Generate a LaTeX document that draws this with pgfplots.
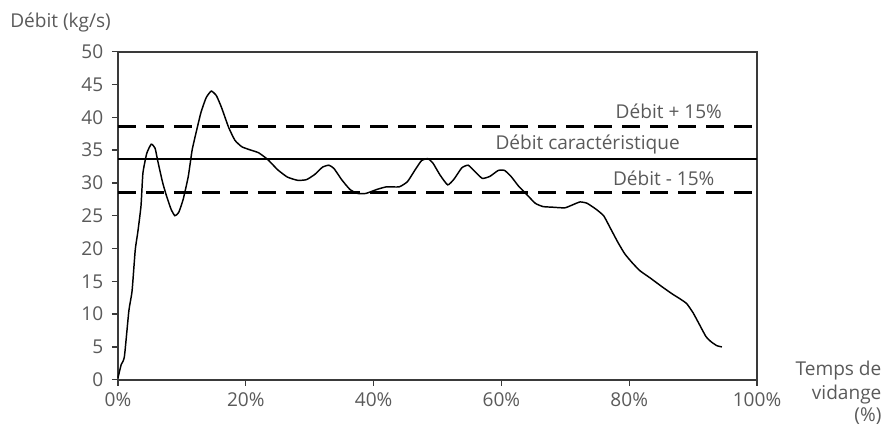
\documentclass[border=0pt]{standalone}
\usepackage{pgfplots}
\pgfplotsset{compat=1.18}
\usepackage{fontspec}
\setmainfont{Open Sans}
\definecolor{txt}{HTML}{5A5A5A}
\definecolor{frame}{HTML}{3A3A3A}
\newcommand\lbl{\fontsize{14.3}{16}\selectfont}

% debit en fonction du temps de vidange (%)
\pgfplotstableread{
x y
0 0.3
0.5 2.3
1.0 3.5
1.7 10.5
2.2 13.5
2.7 19.8
3.1 22.5
3.6 26.5
3.9 31.5
4.5 34.5
5.2 35.9
5.8 35.3
6.3 33.0
7.0 30.0
7.6 28.0
8.3 26.0
8.9 25.0
9.5 25.5
10.2 27.5
11.0 31.0
11.6 35.0
12.3 38.0
13.0 40.8
13.8 43.0
14.6 44.0
15.4 43.3
16.2 41.5
17.3 38.5
18.3 36.5
19.4 35.5
20.8 35.0
22.0 34.6
23.4 33.6
25.0 32.0
26.5 30.9
28.1 30.4
29.5 30.5
30.8 31.3
32.0 32.4
33.0 32.7
33.8 32.2
35.0 30.5
36.3 29.0
37.5 28.4
38.8 28.4
40.5 29.0
42.0 29.4
44.0 29.4
45.3 30.2
46.5 32.0
47.5 33.4
48.5 33.7
49.3 33.0
50.4 31.2
51.6 29.7
52.6 30.6
53.8 32.3
54.8 32.7
55.8 31.8
57.0 30.7
58.2 31.0
59.5 31.9
60.5 31.9
61.5 31.0
62.7 29.5
64.0 28.2
65.3 26.9
66.5 26.4
68.0 26.3
69.9 26.2
71.0 26.6
72.3 27.1
73.4 26.9
74.8 26.0
76.0 25.0
77.0 23.2
78.2 21.0
79.3 19.2
80.5 17.8
81.7 16.6
83.3 15.5
85.1 14.2
86.7 13.1
88.0 12.3
89.0 11.6
90.0 10.2
91.0 8.4
92.0 6.6
92.8 5.8
93.7 5.2
94.5 5.0
}\debit

\begin{document}
\begin{tikzpicture}
\begin{axis}[
    scale only axis,
    width=479.25pt, height=246pt,
    xmin=0, xmax=100, ymin=0, ymax=50,
    xtick={0,20,...,100}, ytick={0,5,...,50},
    xticklabel={\pgfmathprintnumber{\tick}\%},
    xtick pos=bottom, ytick pos=left,
    tick align=outside, major tick length=4.5pt,
    axis line style={frame, line width=1.3pt},
    every tick/.style={frame, line width=1pt},
    tick label style={font=\lbl, text=txt},
    /pgf/number format/assume math mode=true,
    yticklabel style={xshift=-3pt},
    xticklabel style={yshift=-2pt},
    clip=false,
]
\addplot[black, line width=1.1pt, smooth, tension=0.3] table {\debit};
\addplot[black, line width=2.2pt, dash pattern=on 13.5pt off 7.5pt] coordinates {(0,38.6) (100,38.6)};
\addplot[black, line width=1.5pt] coordinates {(0,33.6) (100,33.6)};
\addplot[black, line width=2.2pt, dash pattern=on 13.5pt off 7.5pt] coordinates {(0,28.6) (100,28.6)};
\node[anchor=base, font=\lbl, text=txt, inner sep=0pt] at (axis cs:86.2,39.8) {Débit + 15\%};
\node[anchor=base, font=\lbl, text=txt, inner sep=0pt] at (axis cs:73.5,35.1) {Débit caractéristique};
\node[anchor=base, font=\lbl, text=txt, inner sep=0pt] at (axis cs:85.4,29.6) {Débit - 15\%};
\coordinate (bl) at (rel axis cs:0,0);
\coordinate (tr) at (rel axis cs:1,1);
\end{axis}
\node[anchor=base west, font=\lbl, text=txt, inner sep=0pt] at ([shift={(-81pt,17.8pt)}]bl |- tr) {Débit (kg/s)};
\node[anchor=base east, font=\lbl, text=txt, inner sep=0pt] at ([shift={(93.5pt,3pt)}]tr |- bl) {Temps de};
\node[anchor=base east, font=\lbl, text=txt, inner sep=0pt] at ([shift={(93.5pt,-15pt)}]tr |- bl) {vidange};
\node[anchor=base east, font=\lbl, text=txt, inner sep=0pt] at ([shift={(93.5pt,-31pt)}]tr |- bl) {(\%)};
\pgfresetboundingbox
\path ([shift={(-88.5pt,-35.25pt)}]bl) rectangle ([shift={(94.5pt,38.8pt)}]tr);
\end{tikzpicture}
\end{document}
